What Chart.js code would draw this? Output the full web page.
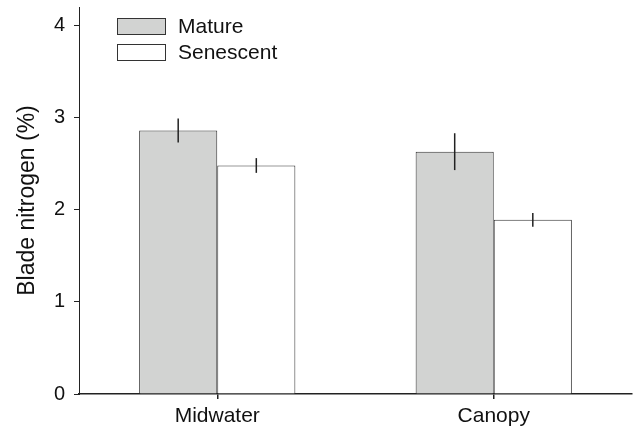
<!DOCTYPE html>
<html>
<head>
<meta charset="utf-8">
<script src="https://cdn.jsdelivr.net/npm/chart.js@4/dist/chart.umd.min.js"></script>
<style>
  html, body { margin: 0; padding: 0; background: #fff; }
  #wrap { width: 634px; height: 428px; position: relative; }
</style>
</head>
<body>
<div id="wrap"><canvas id="chart"></canvas></div>
<script>
// values
const categories = ["Midwater", "Canopy"];
const seriesNames = ["Mature", "Senescent"];
const matureValues = [2.86, 2.63];
const matureErrors = [0.13, 0.2];
const senescentValues = [2.48, 1.89];
const senescentErrors = [0.08, 0.075];
const yTicks = [0, 1, 2, 3, 4];

const ink = "#222";
const FONT = "'Liberation Sans', Arial, sans-serif";

// vertical error bars, no caps
const errorBars = {
  id: "errorBars",
  afterDatasetsDraw(chart) {
    const ctx = chart.ctx;
    const y = chart.scales.y;
    ctx.save();
    ctx.strokeStyle = ink;
    ctx.lineWidth = 1.5;
    chart.data.datasets.forEach((ds, i) => {
      const meta = chart.getDatasetMeta(i);
      meta.data.forEach((bar, j) => {
        const v = ds.data[j];
        const e = ds.errors[j];
        ctx.beginPath();
        ctx.moveTo(bar.x, y.getPixelForValue(v + e));
        ctx.lineTo(bar.x, y.getPixelForValue(v - e));
        ctx.stroke();
      });
    });
    ctx.restore();
  },
};

// legend drawn inside the plot, top-left
const boxLegend = {
  id: "boxLegend",
  afterDraw(chart) {
    const ctx = chart.ctx;
    ctx.save();
    ctx.font = "21px " + FONT;
    ctx.textBaseline = "middle";
    chart.data.datasets.forEach((ds, i) => {
      const top = 18 + i * 26;
      ctx.fillStyle = ds.backgroundColor;
      ctx.fillRect(117, top, 49, 17);
      ctx.strokeStyle = "#333";
      ctx.lineWidth = 1;
      ctx.strokeRect(117.5, top + 0.5, 48, 16);
      ctx.fillStyle = "#111";
      ctx.fillText(ds.label, 178, top + 9);
    });
    ctx.restore();
  },
};

new Chart(document.getElementById("chart"), {
  type: "bar",
  data: {
    labels: categories,
    datasets: [
      {
        label: seriesNames[0],
        data: matureValues,
        errors: matureErrors,
        backgroundColor: "#d2d3d2",
        borderColor: "#333",
        borderWidth: 1,
      },
      {
        label: seriesNames[1],
        data: senescentValues,
        errors: senescentErrors,
        backgroundColor: "#ffffff",
        borderColor: "#333",
        borderWidth: 1,
      },
    ],
  },
  options: {
    responsive: true,
    maintainAspectRatio: false,
    animation: false,
    layout: { padding: { left: 0, top: 7, right: 2, bottom: 0 } },
    datasets: { bar: { categoryPercentage: 0.565, barPercentage: 1 } },
    plugins: { legend: { display: false }, tooltip: { enabled: false } },
    scales: {
      x: {
        grid: { display: true, offset: false, drawOnChartArea: false, drawTicks: true, tickLength: 5, color: ink, lineWidth: 1.5 },
        border: { display: true, color: ink, width: 1.5 },
        ticks: { color: "#111", font: { family: FONT, size: 21 }, padding: 5 },
        afterFit(scale) {
          scale.height = 34;
          scale.paddingLeft = 0;
          scale.paddingRight = 0;
        },
      },
      y: {
        min: 0,
        max: 4.2,
        grid: { display: true, drawOnChartArea: false, drawTicks: true, tickLength: 5, color: ink, lineWidth: 1 },
        border: { display: true, color: ink, width: 1 },
        ticks: { stepSize: 1, color: "#111", font: { family: FONT, size: 20 }, padding: 9 },
        afterBuildTicks(scale) {
          scale.ticks = yTicks.map((v) => ({ value: v }));
        },
        title: { display: true, text: "Blade nitrogen (%)", color: "#111", font: { family: FONT, size: 23 }, padding: { top: 14 } },
        afterFit(scale) {
          scale.width = 79;
          scale.paddingTop = 0;
          scale.paddingBottom = 0;
        },
      },
    },
  },
  plugins: [errorBars, boxLegend],
});
</script>
</body>
</html>
